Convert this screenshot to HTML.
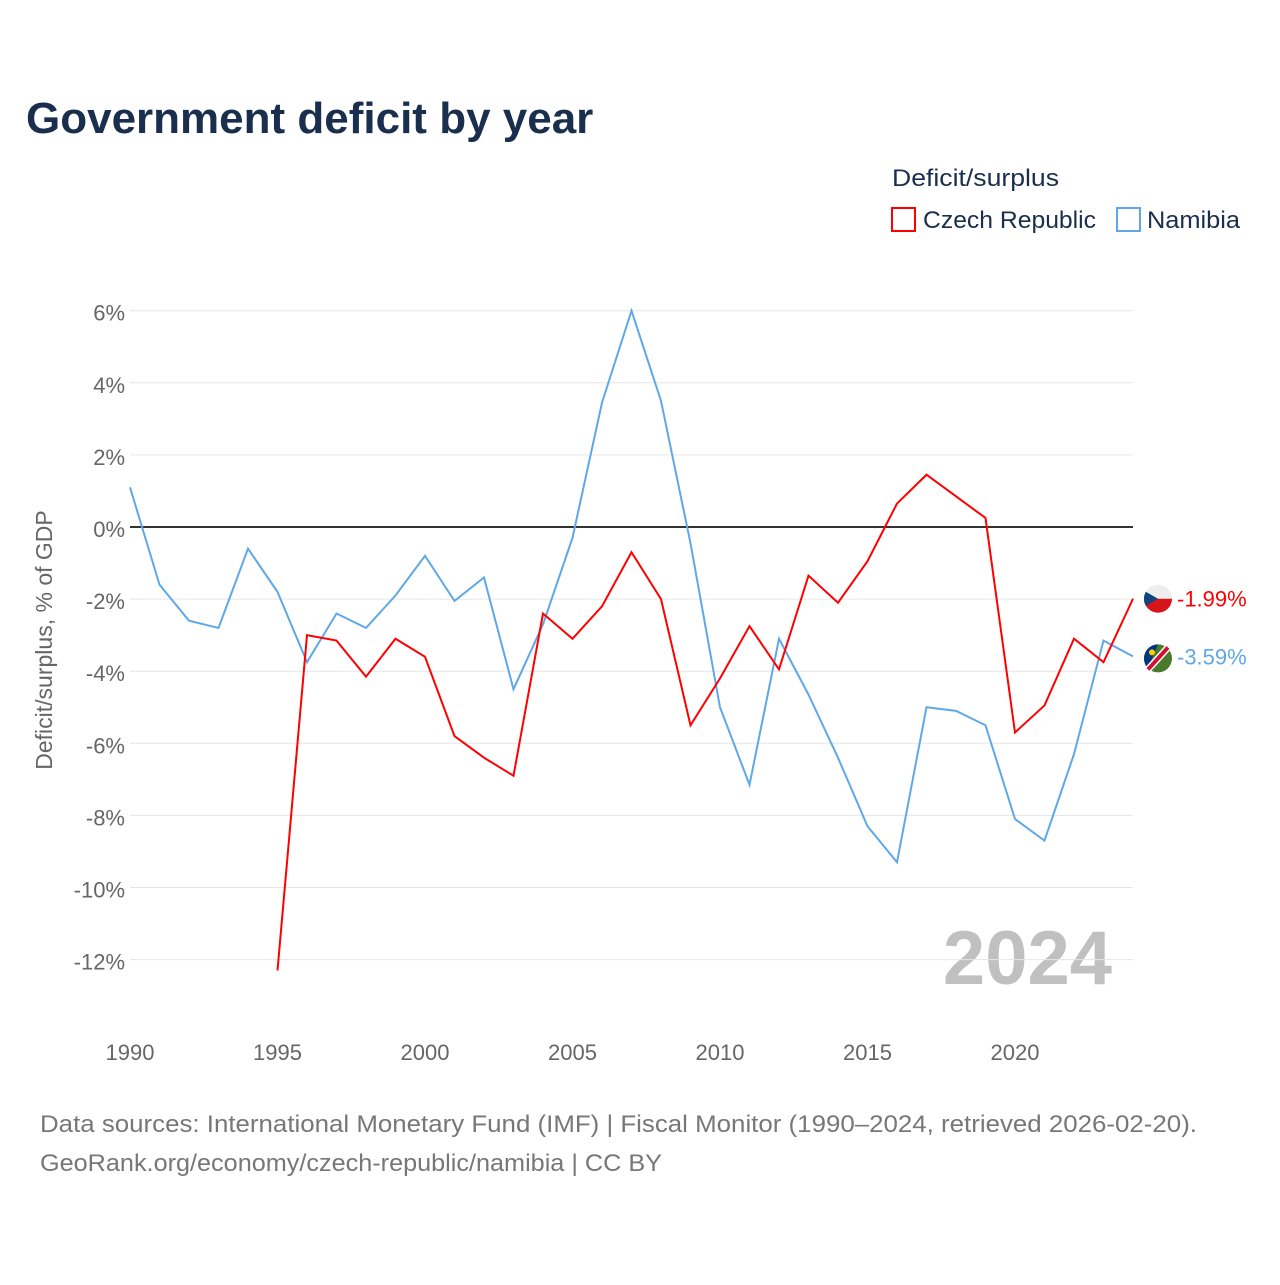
<!DOCTYPE html>
<html><head><meta charset="utf-8"><style>
body{margin:0;background:#fff;font-family:"Liberation Sans",sans-serif}
svg text{font-family:"Liberation Sans",sans-serif}
</style></head><body>
<svg id="chart" width="1280" height="1280" xmlns="http://www.w3.org/2000/svg">
<text x="26" y="133" font-size="44" font-weight="bold" fill="#1a2e4d">Government deficit by year</text>
<text x="892" y="186" font-size="24" fill="#1a2e4d" textLength="167" lengthAdjust="spacingAndGlyphs">Deficit/surplus</text>
<g><rect x="892" y="208" width="23" height="23" fill="none" stroke="#ff0000" stroke-width="2"/><text x="923" y="228" font-size="24" fill="#1a2e4d" textLength="173" lengthAdjust="spacingAndGlyphs">Czech Republic</text></g>
<g><rect x="1117" y="208" width="23" height="23" fill="none" stroke="#5fa8e8" stroke-width="2"/><text x="1147" y="228" font-size="24" fill="#1a2e4d" textLength="93" lengthAdjust="spacingAndGlyphs">Namibia</text></g>
<text transform="translate(52,640) rotate(-90)" text-anchor="middle" font-size="23" fill="#666">Deficit/surplus, % of GDP</text>
<text x="1112" y="984" text-anchor="end" font-size="76" font-weight="bold" fill="#c0c0c0">2024</text>
<g id="grid"></g><g id="series"></g>
<text x="40" y="1132" font-size="24" fill="#777" textLength="1157" lengthAdjust="spacingAndGlyphs">Data sources: International Monetary Fund (IMF) | Fiscal Monitor (1990–2024, retrieved 2026-02-20).</text>
<text x="40" y="1171" font-size="24" fill="#777" textLength="622" lengthAdjust="spacingAndGlyphs">GeoRank.org/economy/czech-republic/namibia | CC BY</text>
</svg>
<script>
const years=[];for(let y=1990;y<=2024;y++)years.push(y);
const namibia=[1.1,-1.6,-2.6,-2.8,-0.6,-1.8,-3.75,-2.4,-2.8,-1.9,-0.8,-2.05,-1.4,-4.5,-2.7,-0.3,3.45,6.0,3.5,-0.45,-5.0,-7.15,-3.1,-4.65,-6.4,-8.3,-9.3,-5.0,-5.1,-5.5,-8.1,-8.7,-6.3,-3.15,-3.59];
const czechYears=[];for(let y=1995;y<=2024;y++)czechYears.push(y);
const czech=[-12.3,-3.0,-3.15,-4.15,-3.1,-3.6,-5.8,-6.4,-6.9,-2.4,-3.1,-2.2,-0.7,-2.0,-5.5,-4.2,-2.75,-3.95,-1.35,-2.1,-0.95,0.65,1.45,0.85,0.25,-5.7,-4.95,-3.1,-3.75,-1.99];
const yTicks=[6,4,2,0,-2,-4,-6,-8,-10,-12];
const xTicks=[1990,1995,2000,2005,2010,2015,2020];
const NS="http://www.w3.org/2000/svg";
const X=y=>130+(y-1990)*(1133-130)/34;
const Y=v=>527-v*36.05;
const grid=document.getElementById('grid'),ser=document.getElementById('series');
function mk(tag,attrs,parent,txt){const e=document.createElementNS(NS,tag);for(const k in attrs)e.setAttribute(k,attrs[k]);if(txt!==undefined)e.textContent=txt;parent.appendChild(e);return e;}
yTicks.forEach(t=>{
 const l=mk('line',{x1:130,x2:1133,y1:Y(t),y2:Y(t),stroke:t===0?'#333':'#e6e6e6','stroke-width':t===0?2:1},grid);
 
 
 const tx=mk('text',{x:125,y:Y(t)+10,'text-anchor':'end','font-size':22,fill:'#666'},grid,t+'%');
 
 
});
xTicks.forEach(t=>{
 const tx=mk('text',{x:X(t),y:1060,'text-anchor':'middle','font-size':22,fill:'#666'},grid,t);
 
 
});
function line(xs,vs,color,name){
 const p=mk('polyline',{points:xs.map((y,i)=>X(y)+','+Y(vs[i])).join(' '),fill:'none',stroke:color,'stroke-width':2},ser);
 
 
}
line(years,namibia,'#5fa8e8','namibia-line');
line(czechYears,czech,'#ff0000','czech-line');
const cv=czech[czech.length-1],nv=namibia[namibia.length-1];
const cf=mk('g',{},ser);


mk('circle',{cx:1158,cy:Y(cv),r:14,fill:'#eee'},cf);
mk('path',{d:`M1144 ${Y(cv)} A14 14 0 0 0 1172 ${Y(cv)} Z`,fill:'#d7141a'},cf);
mk('path',{d:`M${1158-14*0.87} ${Y(cv)-7} L1158 ${Y(cv)} L${1158-14*0.87} ${Y(cv)+7} A14 14 0 0 1 ${1158-14*0.87} ${Y(cv)-7}Z`,fill:'#11457e'},cf);
const ct=mk('text',{x:1177,y:Y(cv)+8,'font-size':22,fill:'#ff0000'},ser,cv.toFixed(2)+'%');


const nf=mk('g',{},ser);


mk('circle',{cx:1158,cy:Y(nv)+2,r:14,fill:'#4a7a2c'},nf);
mk('path',{d:`M1144 ${Y(nv)+2} A14 14 0 0 1 1158 ${Y(nv)-12} L1148 ${Y(nv)+12} A14 14 0 0 1 1144 ${Y(nv)+2}Z`,fill:'#003580'},nf);
mk('line',{x1:1148,y1:Y(nv)+13,x2:1168,y2:Y(nv)-9,stroke:'#fff',"stroke-width":7},nf);
mk('line',{x1:1148,y1:Y(nv)+13,x2:1168,y2:Y(nv)-9,stroke:'#d21034',"stroke-width":4},nf);
mk('circle',{cx:1152,cy:Y(nv)-4,r:3,fill:'#ffce00'},nf);
const nt=mk('text',{x:1177,y:Y(nv)+8,'font-size':22,fill:'#5fa8e8'},ser,nv.toFixed(2)+'%');


</script>
</body></html>
